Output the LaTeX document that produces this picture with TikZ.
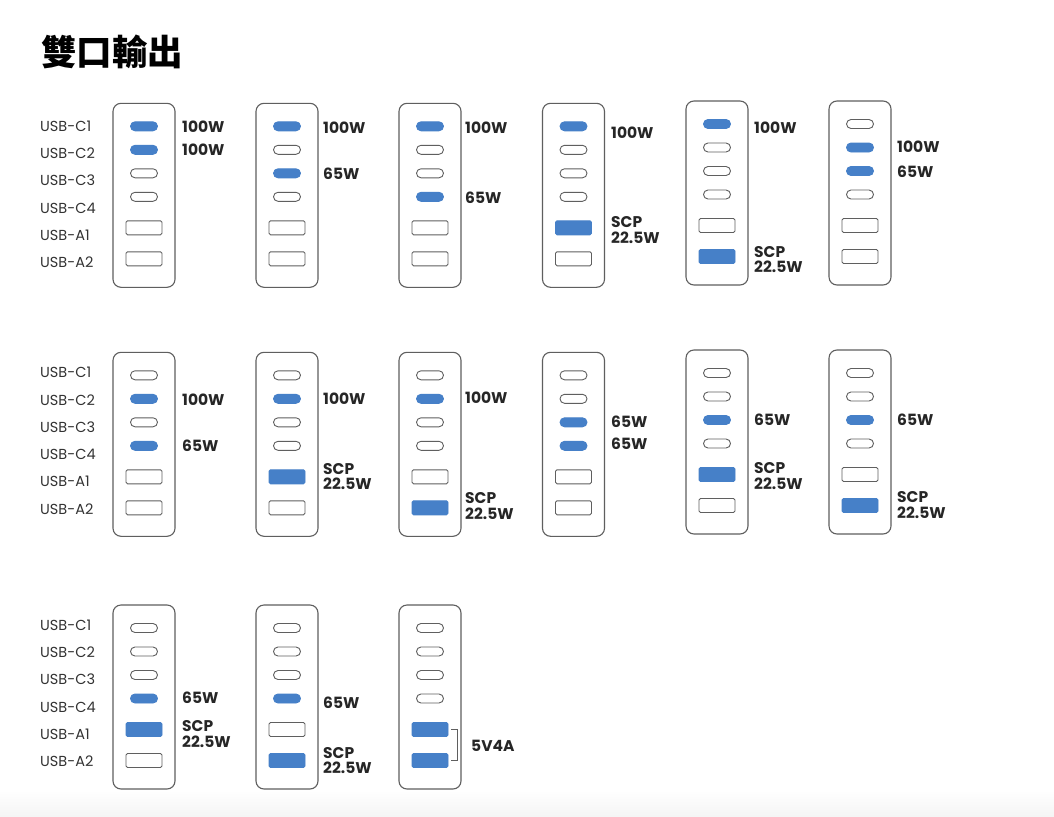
\documentclass[tikz,border=0pt]{standalone}
\usepackage{fontspec}
\usetikzlibrary{shapes.misc}
\setmainfont{Poppins}
\newfontfamily\cjk{Noto Sans CJK TC}
\definecolor{portblue}{RGB}{70,128,200}
\definecolor{edgegray}{RGB}{95,95,95}

\begin{document}
\begin{tikzpicture}[x=1pt, y=-1pt,
    charger/.style={draw=edgegray, line width=1.1pt, rounded corners=8pt, minimum width=62pt, minimum height=184pt, inner sep=0pt},
    cport/.style={rounded rectangle, draw=edgegray, line width=0.9pt, minimum width=27pt, minimum height=9pt, inner sep=0pt},
    aport/.style={draw=edgegray, line width=0.9pt, rounded corners=1.5pt, minimum width=36pt, minimum height=14pt, inner sep=0pt},
    lit/.style={fill=portblue, draw=portblue},
    idle/.style={},
    portname/.style={font=\fontsize{14.5}{14.5}\selectfont, text=black!80, anchor=west, inner sep=0pt},
    val/.style={font=\fontsize{15.5}{15.5}\selectfont\bfseries, text=black!85, anchor=west, inner sep=0pt, align=left},
    brace/.style={draw=edgegray, line width=0.8pt}
]
\useasboundingbox (0,0) rectangle (1054,816);
\fill[white] (0,0) rectangle (1054,816);
\shade[top color=white, bottom color=black!4] (0,790) rectangle (1054,816);

% Title
\node[font=\cjk\bfseries\fontsize{35.5}{35.5}\selectfont, anchor=west, inner sep=0pt] (title) at (41, 51.5) {雙口輸出};

% Port names per row
\foreach \r/\y in {1/126, 2/372.5, 3/625} {
  \foreach \t [count=\k from 0] in {USB-C1, USB-C2, USB-C3, USB-C4, USB-A1, USB-A2}
    \node[portname] (name\r-\k) at (40, \y+27.3*\k) {\t};
}

% Chargers: name / centre x / top y / port states
\foreach \n/\cx/\ty/\sa/\sb/\sc/\sd/\se/\sf in {
    d11/144/103.3/lit/lit/idle/idle/idle/idle,
    d12/287/103.3/lit/idle/lit/idle/idle/idle,
    d13/430/103.3/lit/idle/idle/lit/idle/idle,
    d14/573.5/103.3/lit/idle/idle/idle/lit/idle,
    d15/717/101/lit/idle/idle/idle/idle/lit,
    d16/860/101/idle/lit/lit/idle/idle/idle,
    d21/144/352.3/idle/lit/idle/lit/idle/idle,
    d22/287/352.3/idle/lit/idle/idle/lit/idle,
    d23/430/352.3/idle/lit/idle/idle/idle/lit,
    d24/573.5/352.3/idle/idle/lit/lit/idle/idle,
    d25/717/350/idle/idle/lit/idle/lit/idle,
    d26/860/350/idle/idle/lit/idle/idle/lit,
    d31/144/605/idle/idle/idle/lit/lit/idle,
    d32/287/605/idle/idle/idle/lit/idle/lit,
    d33/430/605/idle/idle/idle/idle/lit/lit} {
  \node[charger] (\n) at (\cx, \ty+92) {};
  \node[cport, \sa] (\n-c1) at (\cx, \ty+23) {};
  \node[cport, \sb] (\n-c2) at (\cx, \ty+46.5) {};
  \node[cport, \sc] (\n-c3) at (\cx, \ty+70) {};
  \node[cport, \sd] (\n-c4) at (\cx, \ty+93.5) {};
  \node[aport, \se] (\n-a1) at (\cx, \ty+124.5) {};
  \node[aport, \sf] (\n-a2) at (\cx, \ty+155.5) {};
}

% Output values, row 1
\node[val] (v11a) at (182, 127) {100W};
\node[val] (v11b) at (182, 150) {100W};
\node[val] (v12a) at (323, 128) {100W};
\node[val] (v12b) at (323, 174) {65W};
\node[val] (v13a) at (465, 128) {100W};
\node[val] (v13b) at (465, 198) {65W};
\node[val] (v14a) at (611, 133) {100W};
\node[val] (v14b) at (611, 230) {SCP\\22.5W};
\node[val] (v15a) at (754, 128) {100W};
\node[val] (v15b) at (754, 259.5) {SCP\\22.5W};
\node[val] (v16a) at (897, 147) {100W};
\node[val] (v16b) at (897, 172) {65W};

% Output values, row 2
\node[val] (v21a) at (182, 400) {100W};
\node[val] (v21b) at (182, 446) {65W};
\node[val] (v22a) at (323, 399) {100W};
\node[val] (v22b) at (323, 476.5) {SCP\\22.5W};
\node[val] (v23a) at (465, 398) {100W};
\node[val] (v23b) at (465, 506) {SCP\\22.5W};
\node[val] (v24a) at (611, 422) {65W};
\node[val] (v24b) at (611, 444) {65W};
\node[val] (v25a) at (754, 420) {65W};
\node[val] (v25b) at (754, 476) {SCP\\22.5W};
\node[val] (v26a) at (897, 420) {65W};
\node[val] (v26b) at (897, 505) {SCP\\22.5W};

% Output values, row 3
\node[val] (v31a) at (182, 698) {65W};
\node[val] (v31b) at (182, 734) {SCP\\22.5W};
\node[val] (v32a) at (323, 703) {65W};
\node[val] (v32b) at (323, 760.5) {SCP\\22.5W};
\node[val] (v33) at (471, 745.5) {5V4A};

% Shared bracket
\draw[brace] ([xshift=3pt]d33-a1.east) -| ([xshift=8.5pt]d33-a2.east) -- ([xshift=3pt]d33-a2.east);

\end{tikzpicture}
\end{document}
